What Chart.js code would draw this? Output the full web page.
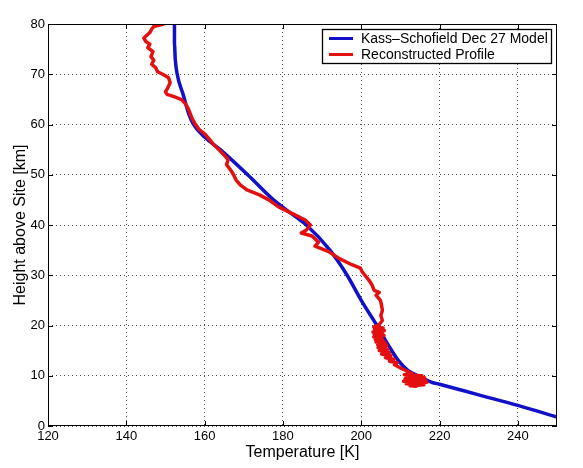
<!DOCTYPE html>
<html>
<head>
<meta charset="utf-8">
<script src="https://cdn.jsdelivr.net/npm/chart.js@4.4.0/dist/chart.umd.min.js"></script>
<style>
  body { margin: 0; background: #fff; }
  #wrap { width: 583px; height: 468px; }
</style>
</head>
<body>
<div id="wrap"><canvas id="profile__chart"></canvas></div>
<script>
// temperature profile: model vs reconstruction

const modelLabel = 'Kass\u2013Schofield Dec 27 Model';
const profileLabel = 'Reconstructed Profile';

const xTicks = [120, 140, 160, 180, 200, 220, 240];
const yTicks = [0, 10, 20, 30, 40, 50, 60, 70, 80];

// model curve [K] / [km]
const modelTemp = [152.3, 152.3, 152.5, 153, 154.5, 156, 157.2, 160, 164, 171, 177.6, 183.5, 186,
  192, 196.4, 200, 204, 207, 209.5, 212, 215, 218, 220, 230, 240, 250];
const modelHeight = [80, 76, 73, 70, 66, 62, 60, 57.5, 55, 50, 45, 41.5, 40,
  35, 30, 25, 20, 16, 13, 11, 9.8, 8.7, 8.3, 6.2, 4.1, 1.8];

// reconstructed profile, read from top to bottom
const profileTemp = [149.5, 147, 146.5, 146, 144.5, 145, 146, 145.5, 146.8, 146.3, 147, 146.5, 147.5,
  148, 149.3, 150.8, 151.2, 150.6, 150, 150.4, 152, 154, 155, 155.8, 156.3, 156.8, 157.6, 158.5,
  160.2, 161.3, 162.3, 163.6, 164.9, 166, 165.6, 166.6, 167.4, 168, 169.1, 170.8, 174, 176.4,
  178.9, 182.3, 185.7, 187, 186, 184.7, 187.4, 189.1, 188.2, 191.7, 194.2, 197.6, 199.8, 200.3,
  201.9, 202.8, 203.3, 204.6, 203.8, 204.9, 205.2, 205.4, 205, 205.4, 204.4,
  203.2, 205.6, 203.4, 205.9, 203, 205.5, 203.3, 205.8, 203.2, 205.3, 203.6, 205.6,
  203.8, 206.2, 204.2, 206.5, 204.3, 206.8, 204.6, 207.2, 205.2, 207.6, 206.2, 208.4,
  207.2, 209.2, 208.5, 210.4, 211.5, 213, 211, 215.5, 211.5, 216.2, 211.2, 216.5, 210.8,
  216.8, 211.5, 216, 212.5, 214];
const profileHeight = [80, 79.5, 79, 78.3, 77.2, 76.5, 76, 75.3, 74.5, 73.5, 72.8, 72, 71.3,
  70.5, 70, 69.3, 68.3, 67.3, 66.5, 66, 65.6, 65, 64.2, 63.2, 62.2, 61.2, 60.1, 59.1,
  58, 57, 56, 55, 54, 53, 52, 51, 50, 49, 48, 47, 46, 45,
  43.6, 42.3, 41, 40, 39, 38.4, 37.8, 36.6, 35.8, 34.7, 33.4, 32.1, 31.4, 30.6,
  29.1, 28, 27, 26.6, 26, 25, 24, 23, 22, 21, 20,
  19.7, 19.5, 19.2, 19, 18.7, 18.5, 18.2, 18, 17.7, 17.5, 17.2, 17,
  16.7, 16.5, 16.2, 16, 15.6, 15.3, 15, 14.6, 14.3, 14, 13.6, 13.3,
  12.9, 12.6, 12.2, 11.4, 11, 10.4, 10.2, 10, 9.8, 9.6, 9.4, 9.1, 8.9,
  8.7, 8.4, 8.2, 8, 7.9];

const blue = 'rgb(16, 16, 200)';
const red = 'rgb(228, 16, 16)';

const toPoints = (xs, ys) => xs.map((v, i) => ({x: v, y: ys[i]}));

// box round the plot with ticks pointing inward, like matlab
const frame = {
  id: 'frame',
  afterDatasetsDraw(chart) {
    const {ctx, chartArea: a, scales} = chart;
    ctx.save();
    ctx.strokeStyle = '#000';
    ctx.lineWidth = 1;
    ctx.strokeRect(a.left + 0.5, a.top + 0.5, a.right - a.left - 1, a.bottom - a.top - 1);
    ctx.beginPath();
    xTicks.forEach(t => {
      const x = Math.round(scales.x.getPixelForValue(t)) + 0.5;
      ctx.moveTo(x, a.bottom); ctx.lineTo(x, a.bottom - 5);
      ctx.moveTo(x, a.top); ctx.lineTo(x, a.top + 5);
    });
    yTicks.forEach(t => {
      const y = Math.round(scales.y.getPixelForValue(t)) + 0.5;
      ctx.moveTo(a.left, y); ctx.lineTo(a.left + 5, y);
      ctx.moveTo(a.right, y); ctx.lineTo(a.right - 5, y);
    });
    ctx.stroke();
    ctx.restore();
  },
  afterDraw(chart) {
    // legend box top right
    const {ctx} = chart;
    const bx = 322, by = 29, bw = 229, bh = 34;
    ctx.save();
    ctx.fillStyle = '#fff';
    ctx.fillRect(bx, by, bw, bh);
    ctx.strokeStyle = '#000';
    ctx.lineWidth = 1.3;
    ctx.strokeRect(bx + 0.5, by + 0.5, bw, bh);
    const rows = [[modelLabel, blue, 38.5], [profileLabel, red, 54.5]];
    ctx.font = '14px "Liberation Sans", Arial, sans-serif';
    ctx.textBaseline = 'middle';
    ctx.fillStyle = '#000';
    rows.forEach(([txt, col, y]) => {
      ctx.strokeStyle = col;
      ctx.lineWidth = 3;
      ctx.beginPath();
      ctx.moveTo(329, y); ctx.lineTo(353, y);
      ctx.stroke();
      ctx.fillText(txt, 361, y + 0.5);
    });
    ctx.restore();
  }
};

const data = {
  datasets: [{
    label: modelLabel,
    data: toPoints(modelTemp, modelHeight),
    borderColor: blue,
    backgroundColor: blue,
    borderWidth: 3.5,
    borderJoinStyle: 'round',
    pointRadius: 0,
    cubicInterpolationMode: 'monotone',
    order: 1
  }, {
    label: profileLabel,
    data: toPoints(profileTemp, profileHeight),
    borderColor: red,
    backgroundColor: red,
    borderWidth: 3.5,
    borderJoinStyle: 'round',
    borderCapStyle: 'round',
    pointRadius: 0,
    tension: 0,
    order: 0
  }]
};

const tickFont = {family: '"Liberation Sans", Arial, sans-serif', size: 13};
const titleFont = {family: '"Liberation Sans", Arial, sans-serif', size: 16};
const gridColor = 'rgba(0,0,0,0.7)';

const config = {
  type: 'line',
  data,
  options: {
    responsive: true,
    maintainAspectRatio: false,
    animation: false,
    layout: {padding: {top: 24, right: 26, left: 0, bottom: 0}},
    plugins: {
      legend: {display: false},
      tooltip: {enabled: false}
    },
    scales: {
      x: {
        type: 'linear',
        min: 120,
        max: 250,
        afterBuildTicks: s => { s.ticks = xTicks.map(v => ({value: v})); },
        afterFit: s => { s.height = 42; },
        ticks: {font: tickFont, color: '#000', padding: 3, maxRotation: 0},
        grid: {color: gridColor, drawTicks: false, lineWidth: 1},
        border: {display: false, dash: [1, 3]},
        title: {display: true, text: 'Temperature [K]', font: titleFont, color: '#000', padding: {bottom: 6}}
      },
      y: {
        type: 'linear',
        min: 0,
        max: 80,
        afterBuildTicks: s => { s.ticks = yTicks.map(v => ({value: v})); },
        afterFit: s => { s.width = 48; },
        ticks: {font: tickFont, color: '#000', padding: 3},
        grid: {color: gridColor, drawTicks: false, lineWidth: 1},
        border: {display: false, dash: [1, 3]},
        title: {display: true, text: 'Height above Site [km]', font: titleFont, color: '#000', padding: {top: 11}}
      }
    }
  },
  plugins: [frame]
};

var profile = new Chart(
  document.getElementById('profile__chart'),
  config
);
</script>
</body>
</html>
